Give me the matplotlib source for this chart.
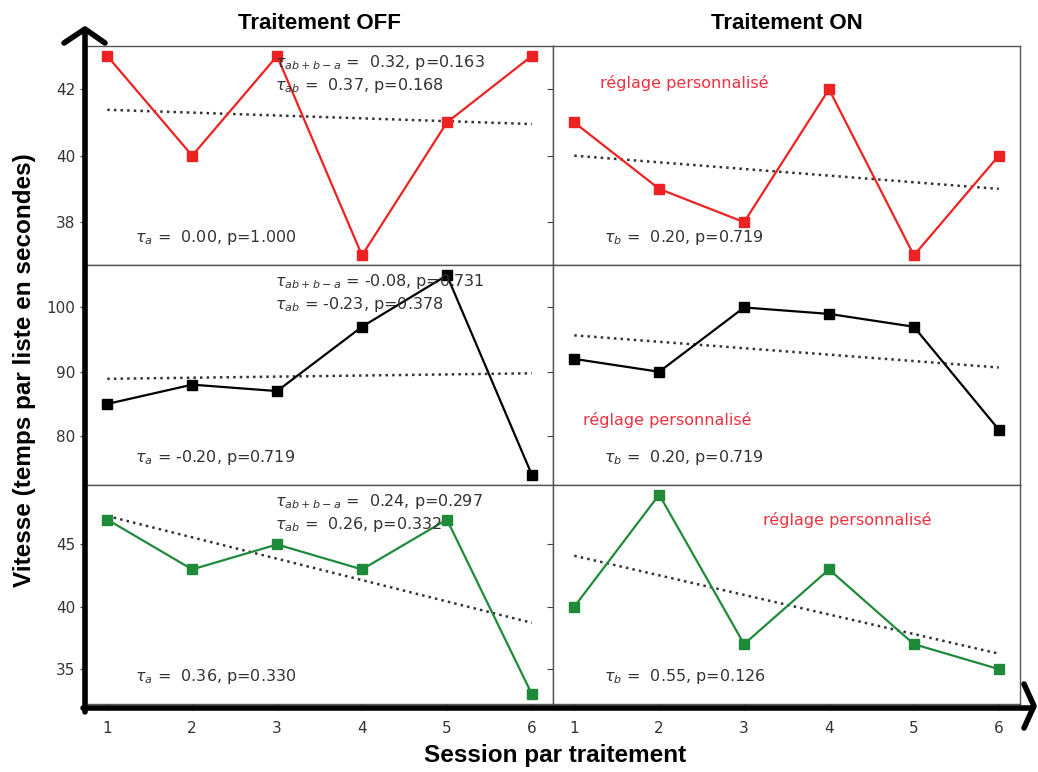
import numpy as np
import matplotlib.pyplot as plt

# séances 1..6
sessions = [1, 2, 3, 4, 5, 6]

# valeurs (OFF = colonne gauche, ON = colonne droite)
off_row1 = [43, 40, 43, 37, 41, 43]
on_row1 = [41, 39, 38, 42, 37, 40]
off_row2 = [85, 88, 87, 97, 105, 74]
on_row2 = [92, 90, 100, 99, 97, 81]
off_row3 = [47, 43, 45, 43, 47, 33]
on_row3 = [40, 49, 37, 43, 37, 35]

row_colors = ['#ee2222', 'black', '#1f8b3a']
yticks = [[38, 40, 42], [80, 90, 100], [35, 40, 45]]

txt_abba = ['$\\tau_{ab+b-a}$ =  0.32, p=0.163',
            '$\\tau_{ab+b-a}$ = -0.08, p=0.731',
            '$\\tau_{ab+b-a}$ =  0.24, p=0.297']
txt_ab = ['$\\tau_{ab}$ =  0.37, p=0.168',
          '$\\tau_{ab}$ = -0.23, p=0.378',
          '$\\tau_{ab}$ =  0.26, p=0.332']
txt_a = ['$\\tau_a$ =  0.00, p=1.000',
         '$\\tau_a$ = -0.20, p=0.719',
         '$\\tau_a$ =  0.36, p=0.330']
txt_b = ['$\\tau_b$ =  0.20, p=0.719',
         '$\\tau_b$ =  0.20, p=0.719',
         '$\\tau_b$ =  0.55, p=0.126']
# position du texte "réglage personnalisé" (fraction des axes)
reglage_pos = [(0.10, 0.83), (0.064, 0.295), (0.45, 0.84)]

plt.rcParams['mathtext.fontset'] = 'dejavusans'
text_col = '#333333'

fig, axes = plt.subplots(3, 2, figsize=(10.38, 7.72), dpi=100, sharex=True, sharey='row')
fig.subplots_adjust(left=0.0829, right=0.9827, top=0.9404, bottom=0.0881, hspace=0, wspace=0)

data = [(off_row1, on_row1), (off_row2, on_row2), (off_row3, on_row3)]
x = np.array(sessions)

for r in range(3):
    for c in range(2):
        ax = axes[r][c]
        y = np.array(data[r][c])
        ax.plot(x, y, color=row_colors[r], marker='s', markersize=7, lw=1.6, zorder=3)
        # droite de tendance (moindres carrés)
        p = np.polyfit(x, y, 1)
        ax.plot(x, np.polyval(p, x), ':', color='#333333', lw=1.8, zorder=2)
        ax.set_xlim(0.75, 6.25)
        ax.set_yticks(yticks[r])
        ax.tick_params(colors='#444444', labelcolor=text_col, labelsize=11, length=4)
        ax.tick_params(axis='x', pad=8)
        for s in ax.spines.values():
            s.set_color('#555555')
            s.set_linewidth(1.0)
        if c == 0:
            ax.text(0.405, 0.925, txt_abba[r], transform=ax.transAxes, fontsize=11.5,
                    color=text_col, va='center')
            ax.text(0.405, 0.82, txt_ab[r], transform=ax.transAxes, fontsize=11.5,
                    color=text_col, va='center')
            ax.text(0.105, 0.125, txt_a[r], transform=ax.transAxes, fontsize=11.5,
                    color=text_col, va='center')
        else:
            ax.text(0.11, 0.125, txt_b[r], transform=ax.transAxes, fontsize=11.5,
                    color=text_col, va='center')
            ax.text(reglage_pos[r][0], reglage_pos[r][1], 'réglage personnalisé',
                    transform=ax.transAxes, fontsize=11.5, color='#f03040', va='center')

axes[2][0].set_xticks(sessions)

axes[0][0].set_title('Traitement OFF', fontsize=16, fontweight='bold',
                     family='Liberation Sans', pad=12)
axes[0][1].set_title('Traitement ON', fontsize=16, fontweight='bold',
                     family='Liberation Sans', pad=12)

fig.text(0.024, 0.52, 'Vitesse (temps par liste en secondes)', rotation=90,
         fontsize=17.5, fontweight='bold', family='Liberation Sans', va='center', ha='center')
fig.text(0.535, 0.022, 'Session par traitement', fontsize=17.5, fontweight='bold',
         family='Liberation Sans', va='center', ha='center')

# flèches épaisses dessinées à la main
W, H = 1038, 772
fig.add_artist(plt.Line2D([85 / W, 85 / W], [1 - 712 / H, 1 - 30 / H], color='black', lw=4,
                          solid_capstyle='round'))
fig.add_artist(plt.Line2D([64 / W, 85 / W, 105 / W], [1 - 43 / H, 1 - 29 / H, 1 - 43 / H],
                          color='black', lw=4, solid_capstyle='round', solid_joinstyle='round'))
fig.add_artist(plt.Line2D([83 / W, 1033 / W], [1 - 708 / H, 1 - 708 / H], color='black', lw=4,
                          solid_capstyle='round'))
fig.add_artist(plt.Line2D([1024 / W, 1034 / W, 1024 / W], [1 - 684 / H, 1 - 706 / H, 1 - 728 / H],
                          color='black', lw=4, solid_capstyle='round', solid_joinstyle='round'))

fig.savefig('out.png', dpi=100)
